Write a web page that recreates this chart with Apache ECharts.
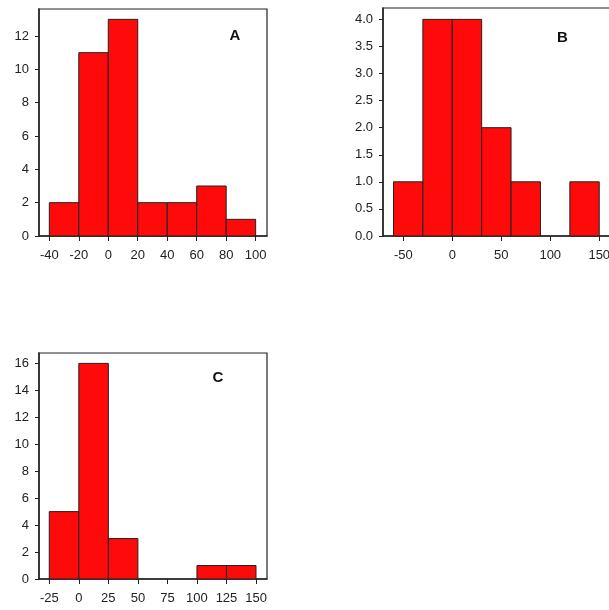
<!DOCTYPE html>
<html>
<head>
<meta charset="utf-8">
<script src="https://cdn.jsdelivr.net/npm/echarts@6/dist/echarts.min.js"></script>
<style>
  html, body { margin: 0; padding: 0; background: #fff; }
  #main { width: 609px; height: 610px; }
</style>
</head>
<body>
<div id="main"></div>
<script>
// histogram bins: [start, end] edges and counts per panel
const edgesA = [-40, -20, 0, 20, 40, 60, 80, 100];
const countsA = [2, 11, 13, 2, 2, 3, 1];
const xTicksA = [-40, -20, 0, 20, 40, 60, 80, 100];
const yTicksA = [0, 2, 4, 6, 8, 10, 12];

const edgesB = [-60, -30, 0, 30, 60, 90, 120, 150];
const countsB = [1, 4, 4, 2, 1, 0, 1];
const xTicksB = [-50, 0, 50, 100, 150];
const yTicksB = [0, 0.5, 1, 1.5, 2, 2.5, 3, 3.5, 4];

const edgesC = [-25, 0, 25, 50, 75, 100, 125, 150];
const countsC = [5, 16, 3, 0, 0, 1, 1];
const xTicksC = [-25, 0, 25, 50, 75, 100, 125, 150];
const yTicksC = [0, 2, 4, 6, 8, 10, 12, 14, 16];

const panelLabels = ["A", "B", "C"];

const ink = "#222";
const font = "Liberation Sans, Arial, sans-serif";

const toBins = (edges, counts) =>
  counts.map((c, i) => [edges[i], edges[i + 1], c]);

const renderBin = (params, api) => {
  if (api.value(2) <= 0) return;
  const p0 = api.coord([api.value(0), api.value(2)]);
  const p1 = api.coord([api.value(1), 0]);
  return {
    type: "rect",
    shape: { x: p0[0], y: p0[1], width: p1[0] - p0[0], height: p1[1] - p0[1] },
    style: { fill: "#fe0a0a", stroke: ink, lineWidth: 1 },
  };
};

const makeX = (idx, min, max, ticks) => ({
  type: "value",
  gridIndex: idx,
  min: min,
  max: max,
  position: "bottom",
  splitLine: { show: false },
  axisLine: { show: true, onZero: false, lineStyle: { color: ink, width: 1.5 } },
  axisTick: { show: true, length: 5, customValues: ticks, lineStyle: { color: ink } },
  axisLabel: { customValues: ticks, color: ink, fontSize: 13, fontFamily: font, margin: 13 },
});

const makeY = (idx, max, ticks, digits) => ({
  type: "value",
  gridIndex: idx,
  min: 0,
  max: max,
  splitLine: { show: false },
  axisLine: { show: true, onZero: false, lineStyle: { color: ink, width: 1.5 } },
  axisTick: { show: true, length: 4, customValues: ticks, lineStyle: { color: ink } },
  axisLabel: {
    customValues: ticks,
    color: ink,
    fontSize: 13,
    fontFamily: font,
    margin: 10,
    formatter: (v) => v.toFixed(digits),
  },
});

const chart = echarts.init(document.getElementById("main"));

const frame = {
  show: true,
  borderColor: ink,
  borderWidth: 1.2,
  backgroundColor: "transparent",
  outerBoundsMode: "none",
  containLabel: false,
};

const option = {
  animation: false,
  grid: [
    Object.assign({ left: 39, top: 9, width: 228, height: 227 }, frame),
    Object.assign({ left: 383, top: 8, width: 228, height: 228 }, frame),
    Object.assign({ left: 39, top: 353, width: 228, height: 226 }, frame),
  ],
  xAxis: [
    makeX(0, -47, 107.7, xTicksA),
    makeX(1, -70.7, 162, xTicksB),
    makeX(2, -33.7, 159.3, xTicksC),
  ],
  yAxis: [
    makeY(0, 13.62, yTicksA, 0),
    makeY(1, 4.21, yTicksB, 1),
    makeY(2, 16.77, yTicksC, 0),
  ],
  graphic: [
    [235, 35.5],
    [562.5, 37.5],
    [218, 378],
  ].map((p, i) => ({
    type: "text",
    x: p[0],
    y: p[1],
    style: {
      text: panelLabels[i],
      fill: "#111",
      font: "bold 15px " + font,
      textAlign: "center",
      textVerticalAlign: "middle",
    },
  })),
  series: [
    { type: "custom", xAxisIndex: 0, yAxisIndex: 0, renderItem: renderBin, data: toBins(edgesA, countsA) },
    { type: "custom", xAxisIndex: 1, yAxisIndex: 1, renderItem: renderBin, data: toBins(edgesB, countsB) },
    { type: "custom", xAxisIndex: 2, yAxisIndex: 2, renderItem: renderBin, data: toBins(edgesC, countsC) },
  ],
};

chart.setOption(option);
</script>
</body>
</html>
